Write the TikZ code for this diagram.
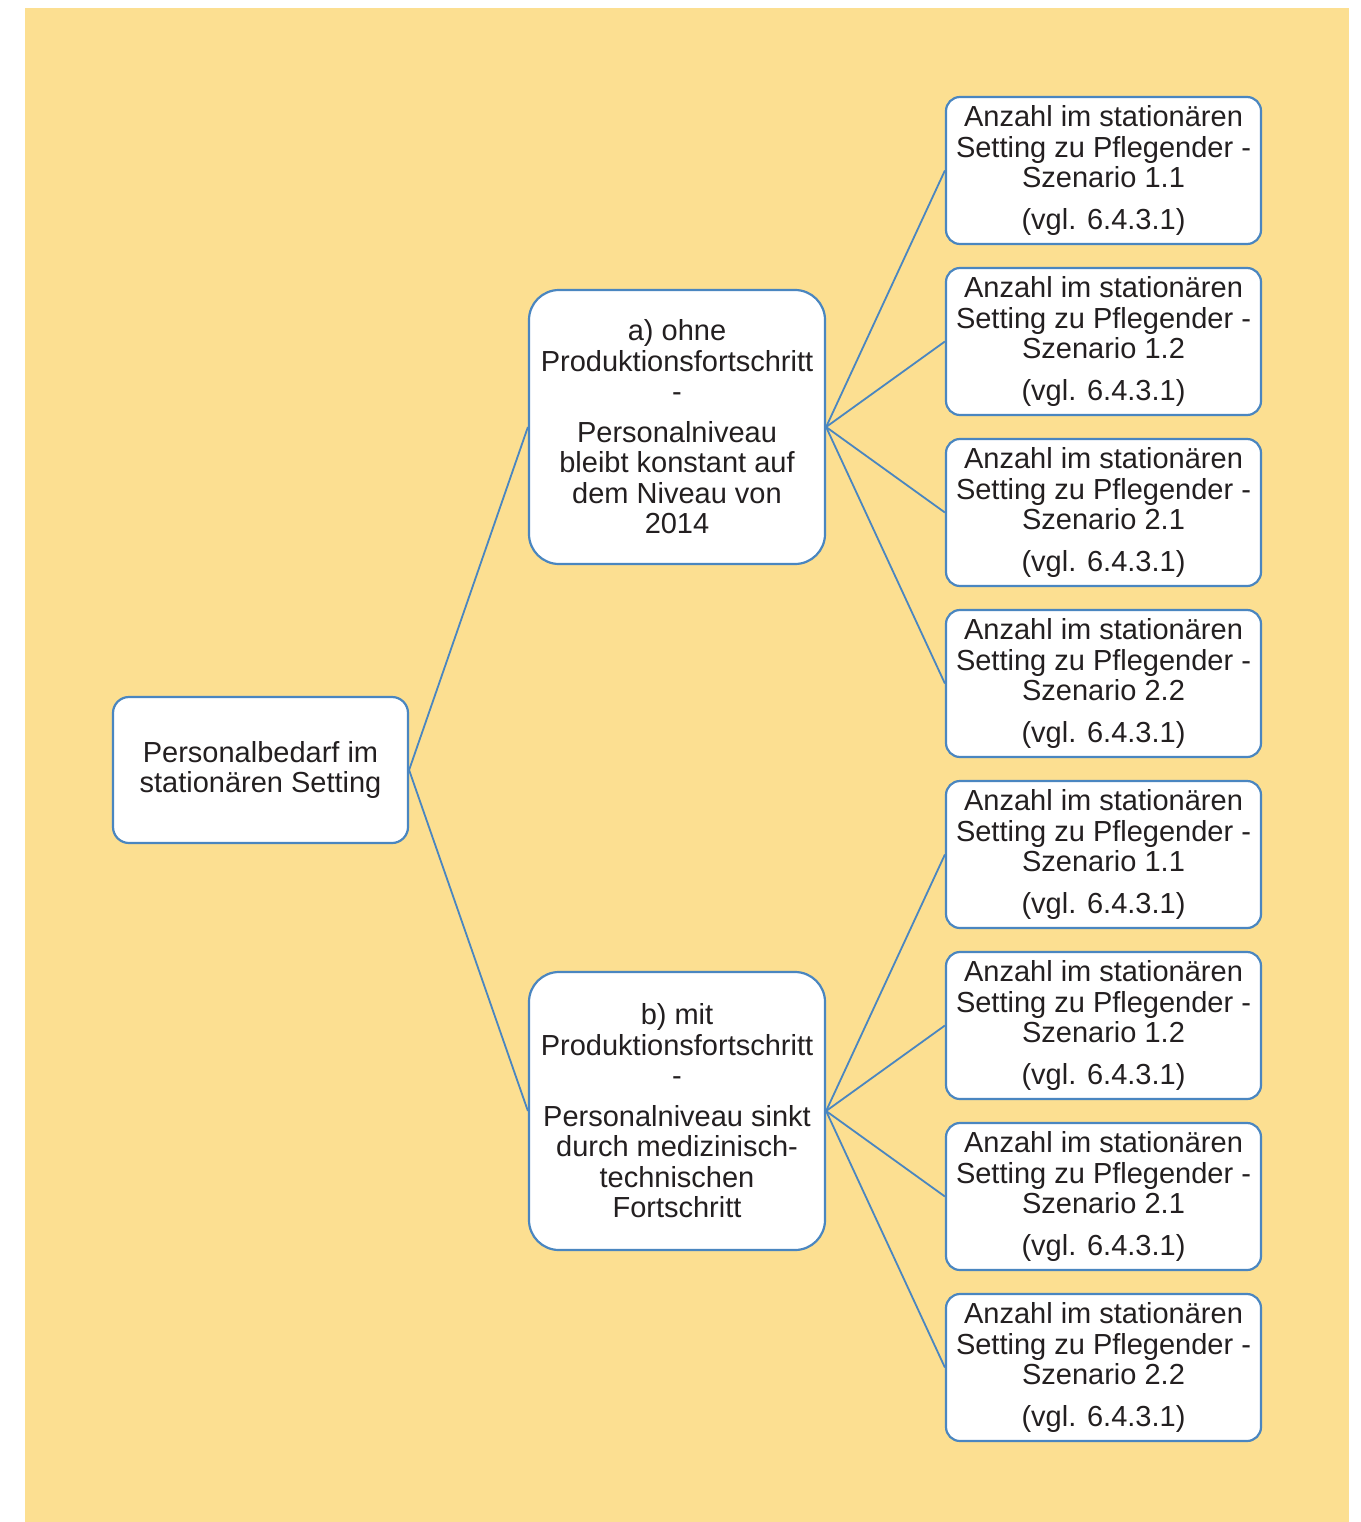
\documentclass[tikz,border=0pt]{standalone}
\usepackage{fontspec}
\setmainfont{Liberation Sans}
\definecolor{bg}{RGB}{252,223,145}
\definecolor{edgeblue}{RGB}{74,134,192}
\definecolor{txt}{RGB}{35,31,32}
\begin{document}
\begin{tikzpicture}[x=1pt,y=-1pt,
  basebox/.style={draw=edgeblue, line width=2.2pt, fill=white, align=center,
    inner sep=0pt, text=txt, font=\fontsize{29}{30.5}\selectfont},
  rootbox/.style={basebox, rounded corners=16pt, minimum width=295pt, minimum height=146pt},
  midbox/.style={basebox, rounded corners=30pt, minimum width=296pt},
  leafbox/.style={basebox, rounded corners=14pt, minimum width=315pt, minimum height=147pt},
  conn/.style={draw=edgeblue, line width=1.8pt}
]
\useasboundingbox (0,0) rectangle (1360,1522);
\fill[bg] (25,8) rectangle (1349,1522);

\node[rootbox] (root) at (260.5,770) {Personalbedarf im\\stationären Setting};
\node[midbox, minimum height=274pt] (a) at (677,427)
  {a) ohne\\Produktionsfortschritt\\-\\[10pt]Personalniveau\\bleibt konstant auf\\dem Niveau von\\2014};
\node[midbox, minimum height=278pt] (b) at (677,1111)
  {b) mit\\Produktionsfortschritt\\-\\[10pt]Personalniveau sinkt\\durch medizinisch-\\technischen\\Fortschritt};

\node[leafbox] (a1) at (1103.5,170.5) {Anzahl im stationären\\Setting zu Pflegender -\\Szenario 1.1\\[11pt](vgl. 6.4.3.1)};
\node[leafbox] (a2) at (1103.5,341.5) {Anzahl im stationären\\Setting zu Pflegender -\\Szenario 1.2\\[11pt](vgl. 6.4.3.1)};
\node[leafbox] (a3) at (1103.5,512.5) {Anzahl im stationären\\Setting zu Pflegender -\\Szenario 2.1\\[11pt](vgl. 6.4.3.1)};
\node[leafbox] (a4) at (1103.5,683.5) {Anzahl im stationären\\Setting zu Pflegender -\\Szenario 2.2\\[11pt](vgl. 6.4.3.1)};
\node[leafbox] (b1) at (1103.5,854.5) {Anzahl im stationären\\Setting zu Pflegender -\\Szenario 1.1\\[11pt](vgl. 6.4.3.1)};
\node[leafbox] (b2) at (1103.5,1025.5) {Anzahl im stationären\\Setting zu Pflegender -\\Szenario 1.2\\[11pt](vgl. 6.4.3.1)};
\node[leafbox] (b3) at (1103.5,1196.5) {Anzahl im stationären\\Setting zu Pflegender -\\Szenario 2.1\\[11pt](vgl. 6.4.3.1)};
\node[leafbox] (b4) at (1103.5,1367.5) {Anzahl im stationären\\Setting zu Pflegender -\\Szenario 2.2\\[11pt](vgl. 6.4.3.1)};

\draw[conn] (root.east) -- (a.west);
\draw[conn] (root.east) -- (b.west);
\foreach \l in {a1,a2,a3,a4} \draw[conn] (a.east) -- (\l.west);
\foreach \l in {b1,b2,b3,b4} \draw[conn] (b.east) -- (\l.west);
\end{tikzpicture}
\end{document}
